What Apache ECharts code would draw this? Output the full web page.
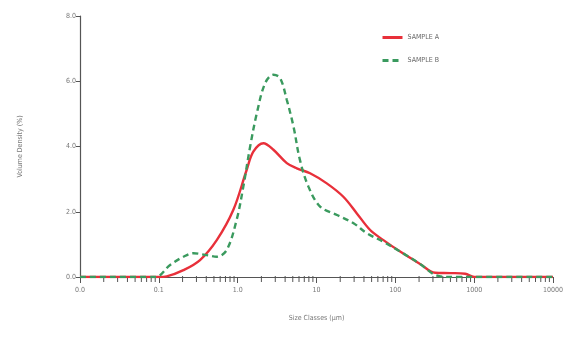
<!DOCTYPE html>
<html><head><meta charset="utf-8">
<script src="https://cdn.jsdelivr.net/npm/echarts@6/dist/echarts.min.js"></script>
<style>html,body{margin:0;padding:0;background:#fff}#c{width:569px;height:338px}</style>
</head><body><div id="c"></div>
<script>
var FONT = "'Liberation Sans Narrow','DejaVu Sans Condensed','Liberation Sans',sans-serif";
var seriesNames = ['SAMPLE A', 'SAMPLE B'];
var xTickValues = [0.01, 0.1, 1, 10, 100, 1000, 10000];
var xTickLabels = ['0.0', '0.1', '1.0', '10', '100', '1000', '10000'];
var minorTickValues = [0.02,0.03,0.04,0.05,0.06,0.07,0.08,0.09,
  0.2,0.3,0.4,0.5,0.6,0.7,0.8,0.9, 2,3,4,5,6,7,8,9,
  20,30,40,50,60,70,80,90, 200,300,400,500,600,700,800,900,
  2000,3000,4000,5000,6000,7000,8000,9000];
var sizesA = [0.01, 0.1, 0.126, 0.205, 0.333, 0.543, 0.882, 1.30, 1.58, 2.12, 2.84, 4.20, 5.62, 8.29, 13.5, 21.9, 32.5, 47.9, 70.6, 115, 206, 320, 500, 770, 1000, 10000];
var valuesA = [0, 0, 0.02, 0.21, 0.52, 1.13, 2.06, 3.28, 3.84, 4.10, 3.90, 3.49, 3.33, 3.18, 2.87, 2.46, 1.95, 1.44, 1.13, 0.78, 0.40, 0.13, 0.12, 0.10, 0, 0];
var sizesB = [0.01, 0.09, 0.139, 0.205, 0.274, 0.405, 0.543, 0.727, 0.97, 1.18, 1.44, 1.75, 2.23, 2.84, 3.45, 4.20, 5.11, 6.16, 7.90, 11.1, 18.2, 29.5, 43.5, 70.6, 115, 206, 330, 500, 10000];
var valuesB = [0, 0, 0.37, 0.62, 0.73, 0.67, 0.62, 0.83, 1.75, 2.77, 4.00, 5.02, 5.94, 6.20, 6.10, 5.43, 4.61, 3.59, 2.77, 2.16, 1.90, 1.65, 1.34, 1.08, 0.78, 0.40, 0.05, 0, 0];
var yTicks = [0, 2, 4, 6, 8];

function pairs(xs, ys){ return xs.map(function(x,i){ return [x, ys[i]]; }); }

var chart = echarts.init(document.getElementById('c'), null, {renderer:'canvas'});
var axisColor = '#555';
chart.setOption({
  animation:false,
  backgroundColor:'#fff',
  grid:{left:80, right:16, top:16, bottom:61, containLabel:false},
  legend:{
    orient:'vertical', left:376, top:29, itemWidth:20, itemHeight:2, itemGap:16,
    itemStyle:{opacity:0},
    lineStyle:{width:3},
    textStyle:{color:'#666', fontSize:7, fontFamily:FONT},
    data:seriesNames
  },
  xAxis:{
    type:'log', logBase:10, min:xTickValues[0], max:xTickValues[xTickValues.length-1], interval:1,
    name:'Size Classes (μm)', nameLocation:'middle', nameGap:38,
    nameTextStyle:{color:'#777', fontSize:7, fontFamily:FONT},
    axisLine:{lineStyle:{color:axisColor, width:1.2}},
    axisTick:{show:true, length:6, lineStyle:{color:axisColor, width:1}},
    axisLabel:{margin:10, color:'#777', fontSize:7, fontFamily:FONT, formatter:function(v){
      var i = xTickValues.findIndex(function(t){ return Math.abs(Math.log10(t)-Math.log10(v))<1e-6; });
      return i>=0 ? xTickLabels[i] : '';
    }},
    splitLine:{show:false}
  },
  yAxis:{
    type:'value', min:0, max:8, interval:2,
    name:'Volume Density (%)', nameLocation:'middle', nameGap:56, nameRotate:90,
    nameTextStyle:{color:'#777', fontSize:7, fontFamily:FONT},
    axisLine:{show:true, lineStyle:{color:axisColor, width:1.2}},
    axisTick:{show:true, length:4, lineStyle:{color:axisColor}},
    axisLabel:{margin:4, color:'#777', fontSize:7, fontFamily:FONT, formatter:function(v){ return v.toFixed(1); }},
    splitLine:{show:false}
  },
  series:[
    {
      type:'custom', name:'minor', silent:true, z:1, clip:false,
      data:minorTickValues.map(function(v){ return [v, 0]; }),
      renderItem:function(params, api){
        var p = api.coord([api.value(0), 0]);
        return {type:'line', shape:{x1:p[0], y1:p[1]-1, x2:p[0], y2:p[1]+5}, style:{stroke:axisColor, lineWidth:1}};
      }
    },
    {
      name:seriesNames[0], type:'line', smooth:0.35, symbol:'none', z:3,
      lineStyle:{color:'#e8303a', width:2.4},
      itemStyle:{color:'#e8303a'},
      data:pairs(sizesA, valuesA)
    },
    {
      name:seriesNames[1], type:'line', smooth:0.35, symbol:'none', z:4,
      lineStyle:{color:'#3a9a5e', width:2.4, type:[6,4]},
      itemStyle:{color:'#3a9a5e'},
      data:pairs(sizesB, valuesB)
    }
  ]
});
</script></body></html>
